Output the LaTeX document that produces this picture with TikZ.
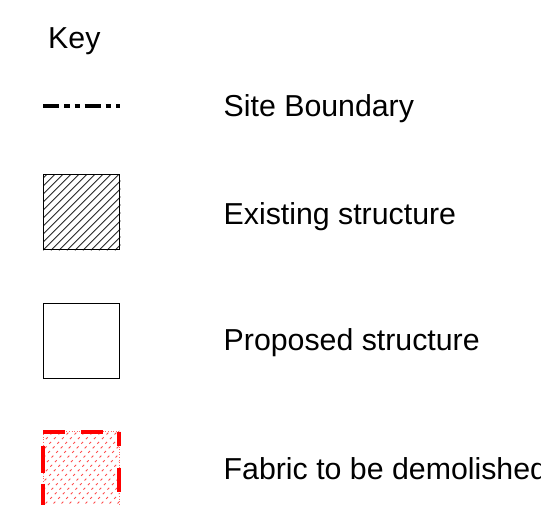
\documentclass[tikz,border=0pt]{standalone}
\usepackage{fontspec}
\setmainfont{Liberation Sans}
\usetikzlibrary{calc}
\begin{document}
\begin{tikzpicture}[x=1pt,y=-1pt,
  lbl/.style={anchor=base west,inner sep=0pt,font=\fontsize{30.3}{32}\selectfont},
  keybox/.style={draw=black,line width=1.3pt,minimum width=76pt,minimum height=75pt,inner sep=0pt,anchor=north west},
  hatchline/.style={line width=0.9pt,black!85},
  redhatch/.style={line width=1pt,red!70,dash pattern=on 2.5pt off 4pt},
  redborder/.style={line width=4pt,red}]
\useasboundingbox (0,0) rectangle (541,504);
\clip (0,0) rectangle (541,504);
% labels
\node[lbl] (key) at (48,48) {Key};
\node[lbl] (sb) at (223.5,116) {Site Boundary};
\node[lbl] (ex) at (223.5,224) {Existing structure};
\node[lbl] (pr) at (223.5,350) {Proposed structure};
\node[lbl] (fa) at (223.5,479) {Fabric to be demolished};
% site boundary sample
\coordinate (sbA) at (43,106);
\coordinate (sbB) at (119.5,106);
\draw[line width=4.2pt,dash pattern=on 16pt off 5pt on 5.5pt off 5pt on 5.5pt off 4.5pt] (sbA) -- (sbB);
% existing structure
\node[keybox] (exbox) at (43,174) {};
\begin{scope}
\clip (exbox.south west) rectangle (exbox.north east);
\foreach \i in {-80,-72,...,80}{
  \draw[hatchline] ([xshift=\i pt]exbox.south west) -- ++(80,-80);
}
\end{scope}
\node[keybox] at (43,174) {};
% proposed structure
\node[keybox] (prbox) at (43,302.5) {};
% fabric to be demolished
\coordinate (faTL) at (43,431.5);
\coordinate (faTR) at (119,431.5);
\coordinate (faBL) at (43,520);
\coordinate (faBR) at (119,520);
\begin{scope}
\clip (faTL) rectangle (faBR);
\foreach \i in {-90,-82,...,80}{
  \draw[redhatch] ($(faBL)+(\i,-12)$) -- ++(100,-100);
}
\end{scope}
\draw[line width=0.6pt,red!60,dotted] (faTL) -- (faTR) -- (faBR) (faTL) -- (faBL);
\draw[redborder,dash pattern=on 22pt off 16pt] (faTL) -- (faTR);
\draw[redborder,dash pattern=on 14pt off 22pt on 24pt off 14pt] (faTR) -- (faBR);
\draw[redborder,dash pattern=on 0pt off 14pt on 27pt off 11pt on 27pt off 11pt] (faTL) -- (faBL);
\end{tikzpicture}
\end{document}
